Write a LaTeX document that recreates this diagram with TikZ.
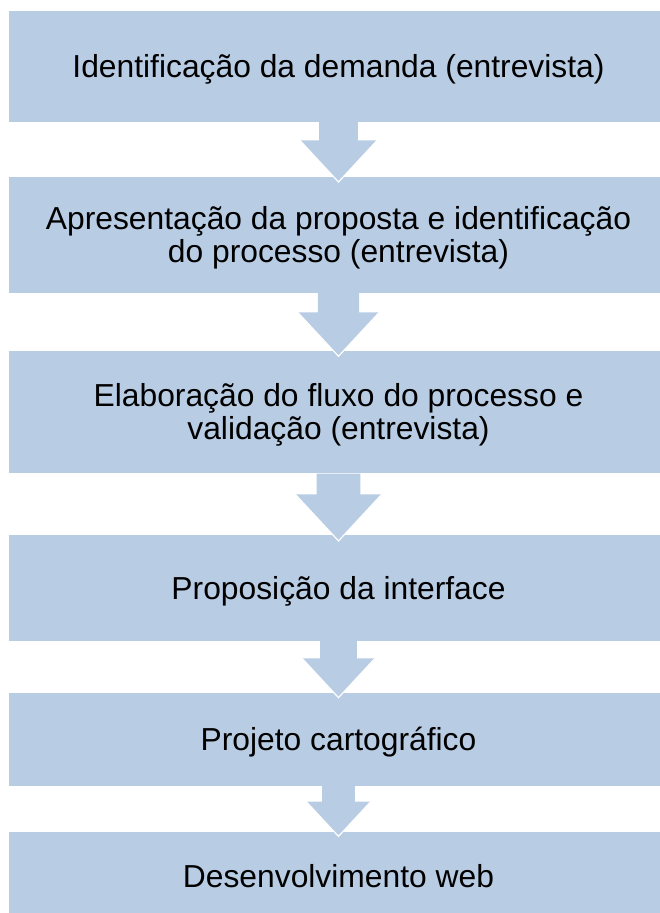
\documentclass[tikz,border=0pt]{standalone}
\usepackage{fontspec}
\setmainfont{Liberation Sans}
\usetikzlibrary{calc}
\definecolor{boxblue}{HTML}{B8CCE4}
\tikzset{
  stagebox/.style={rectangle, fill=boxblue, draw=none, inner sep=0pt,
    minimum width=659pt, align=center, text=black,
    font=\fontsize{31.8}{33.1}\selectfont, text height=22.8pt, text depth=0pt},
  twolines/.style={text height=55.9pt, text depth=0pt},
  arrowfill/.style={fill=boxblue},
  arrowedge/.style={draw=white, line width=1.2pt, line join=miter}
}
\newcommand\blockdownarrow[2]{%
  \fill[arrowfill] let \p1=(#1.south), \p2=(#2.north), \n1={\y1-\y2} in
    ({\x1-0.355*\n1},\y1) -- ({\x1-0.355*\n1},{\y1-0.34*\n1})
    -- ({\x1-0.705*\n1},{\y1-0.34*\n1}) -- (\x1,{\y1-1.1*\n1})
    -- ({\x1+0.705*\n1},{\y1-0.34*\n1}) -- ({\x1+0.355*\n1},{\y1-0.34*\n1})
    -- ({\x1+0.355*\n1},\y1) -- cycle;
  \draw[arrowedge] let \p1=(#1.south), \p2=(#2.north), \n1={\y1-\y2} in
    ({\x1-0.705*\n1},{\y1-0.34*\n1}) -- (\x1,{\y1-1.1*\n1})
    -- ({\x1+0.705*\n1},{\y1-0.34*\n1});
}
\begin{document}
\begin{tikzpicture}[x=1pt, y=-1pt]
\useasboundingbox (0,0) rectangle (659,913);
\node[stagebox, minimum height=110.5pt] (b1) at (338.5,66.25) {Identificação da demanda (entrevista)};
\node[stagebox, twolines, minimum height=115.8pt] (b2) at (338.5,234.6) {Apresentação da proposta e identificação\\do processo (entrevista)};
\node[stagebox, twolines, minimum height=122.6pt] (b3) at (338.5,412) {Elaboração do fluxo do processo e\\validação (entrevista)};
\node[stagebox, minimum height=105.7pt] (b4) at (338.5,587.85) {Proposição da interface};
\node[stagebox, minimum height=93pt] (b5) at (338.5,739.2) {Projeto cartográfico};
\node[stagebox, minimum height=88pt] (b6) at (338.5,876) {Desenvolvimento web};
\blockdownarrow{b1}{b2}
\blockdownarrow{b2}{b3}
\blockdownarrow{b3}{b4}
\blockdownarrow{b4}{b5}
\blockdownarrow{b5}{b6}
\end{tikzpicture}
\end{document}
